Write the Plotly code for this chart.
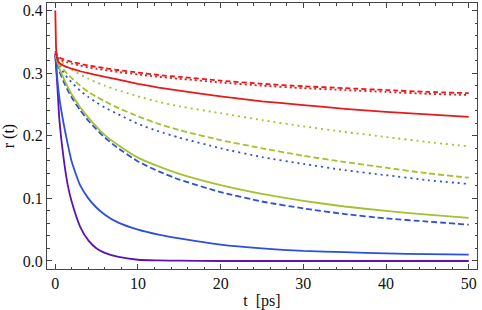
import plotly.graph_objects as go

t = [0, 0.25, 0.5, 1, 1.5, 2, 3, 4, 5, 6, 7.5, 10, 12.5, 15, 20, 25, 30, 35, 40, 45, 50]

purple_solid = [0.33, 0.28, 0.225, 0.165, 0.122, 0.094, 0.055, 0.033, 0.02, 0.013, 0.007, 0.002, 0.001, 0.0005, 0.0, 0.0, 0.0, 0.0, 0.0, 0.0, 0.0]
blue_solid = [0.33, 0.29, 0.26, 0.22, 0.187, 0.158, 0.121, 0.1, 0.085, 0.074, 0.062, 0.05, 0.042, 0.036, 0.026, 0.02, 0.016, 0.014, 0.012, 0.011, 0.01]
blue_dashed = [0.33, 0.315, 0.303, 0.287, 0.273, 0.261, 0.241, 0.224, 0.21, 0.197, 0.181, 0.159, 0.143, 0.13, 0.11, 0.095, 0.084, 0.075, 0.068, 0.063, 0.058]
blue_dotted = [0.33, 0.32, 0.312, 0.301, 0.292, 0.285, 0.272, 0.262, 0.253, 0.245, 0.235, 0.219, 0.207, 0.197, 0.18, 0.166, 0.155, 0.145, 0.137, 0.129, 0.123]
green_solid = [0.33, 0.318, 0.308, 0.292, 0.278, 0.266, 0.246, 0.229, 0.214, 0.201, 0.186, 0.165, 0.151, 0.139, 0.121, 0.107, 0.096, 0.087, 0.08, 0.074, 0.069]
green_dashed = [0.332, 0.323, 0.316, 0.306, 0.298, 0.292, 0.28, 0.27, 0.262, 0.255, 0.245, 0.231, 0.219, 0.209, 0.193, 0.18, 0.168, 0.158, 0.149, 0.14, 0.133]
green_dotted = [0.333, 0.327, 0.322, 0.315, 0.31, 0.305, 0.298, 0.291, 0.285, 0.28, 0.273, 0.263, 0.254, 0.247, 0.236, 0.225, 0.215, 0.206, 0.198, 0.19, 0.183]
red_dashed = [0.335, 0.328, 0.325, 0.322, 0.32, 0.318, 0.315, 0.312, 0.31, 0.308, 0.305, 0.301, 0.297, 0.294, 0.288, 0.283, 0.279, 0.276, 0.273, 0.27, 0.268]
red_dotted = [0.332, 0.325, 0.322, 0.319, 0.317, 0.315, 0.312, 0.309, 0.307, 0.305, 0.302, 0.298, 0.294, 0.291, 0.285, 0.28, 0.276, 0.273, 0.27, 0.267, 0.265]

t_red = [0, 0.05, 0.1, 0.25, 0.5, 1, 1.5, 2, 3, 4, 5, 6, 7.5, 10, 12.5, 15, 20, 25, 30, 35, 40, 45, 50]
red_solid = [0.40, 0.37, 0.34, 0.322, 0.316, 0.312, 0.309, 0.307, 0.303, 0.3, 0.297, 0.294, 0.29, 0.283, 0.277, 0.272, 0.263, 0.255, 0.249, 0.243, 0.238, 0.234, 0.23]

RED = "#e8191c"
GREEN = "#a3c232"
BLUE = "#2d4fdc"
PURPLE = "#5a14b4"

series = [
    (t, purple_solid, PURPLE, "solid"),
    (t, blue_solid, BLUE, "solid"),
    (t, blue_dashed, BLUE, "6px,3px"),
    (t, blue_dotted, BLUE, "2px,4px"),
    (t, green_solid, GREEN, "solid"),
    (t, green_dashed, GREEN, "6px,3px"),
    (t, green_dotted, GREEN, "2px,4px"),
    (t_red, red_solid, RED, "solid"),
    (t, red_dotted, RED, "2px,3px"),
    (t, red_dashed, RED, "5px,3px"),
]

fig = go.Figure()
for xs, ys, col, dash in series:
    fig.add_trace(go.Scatter(x=xs, y=ys, mode="lines",
                             line=dict(color=col, width=1.8, dash=dash,
                                       shape="spline", smoothing=0.5),
                             showlegend=False, hoverinfo="skip"))

font = dict(family="Liberation Serif", size=16, color="#111")
axis_common = dict(showline=True, linecolor="#444", linewidth=1, mirror="allticks",
                   ticks="inside", ticklen=5, tickcolor="#444", showgrid=False,
                   zeroline=False, tickfont=font)

fig.update_xaxes(range=[-1, 51], tickvals=[0, 10, 20, 30, 40, 50],
                 minor=dict(ticks="inside", dtick=2, tick0=0, ticklen=2.5, tickcolor="#444"),
                 title=dict(text="t\u00a0\u00a0[ps]", font=font, standoff=3), **axis_common)
fig.update_yaxes(range=[-0.0128, 0.412], tickvals=[0, 0.1, 0.2, 0.3, 0.4], tickformat=".1f",
                 minor=dict(ticks="inside", dtick=0.02, tick0=0, ticklen=2.5, tickcolor="#444"),
                 title=dict(text="r (t)", font=font, standoff=4), **axis_common)

fig.update_layout(width=482, height=310, margin=dict(l=47, r=5, t=3, b=41),
                  plot_bgcolor="white", paper_bgcolor="white", font=font)

fig.write_html("out.html", config={"displayModeBar": False},
               post_script="document.body.style.margin='0';document.body.style.padding='0';")
